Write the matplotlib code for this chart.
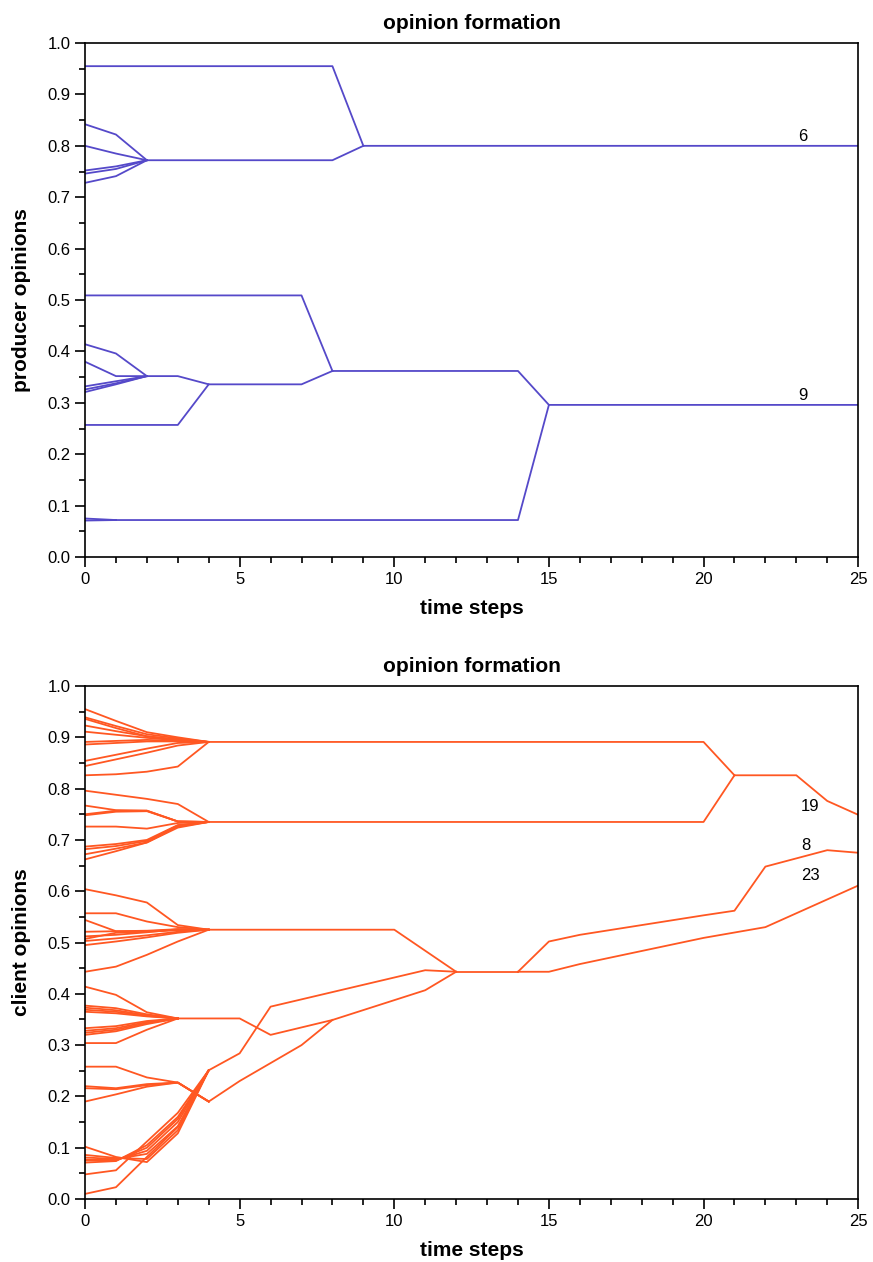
import matplotlib
matplotlib.use("Agg")
import matplotlib.pyplot as plt
from matplotlib.ticker import MultipleLocator

# -----------------------------
# Producer opinions (top panel)
# -----------------------------

# upper group, t = 0, 1, 2
prod_upper_early = [
    [0.842, 0.822, 0.772],
    [0.800, 0.785, 0.772],
    [0.752, 0.760, 0.772],
    [0.746, 0.755, 0.772],
    [0.728, 0.741, 0.772],
]
prod_upper_t = [2, 8, 9, 25]
prod_upper = [0.772, 0.772, 0.800, 0.800]

prod_top_t = [0, 8, 9]
prod_top = [0.955, 0.955, 0.800]

# middle group, t = 0, 1, 2
prod_mid_early = [
    [0.414, 0.396, 0.352],
    [0.380, 0.352, 0.352],
    [0.332, 0.342, 0.352],
    [0.326, 0.338, 0.352],
    [0.321, 0.336, 0.352],
]
prod_mid_t = [2, 3, 4, 7, 8]
prod_mid = [0.352, 0.352, 0.336, 0.336, 0.362]

prod_low_t = [0, 3, 4]
prod_low = [0.257, 0.257, 0.336]

prod_half_t = [0, 7, 8]
prod_half = [0.509, 0.509, 0.362]

prod_joined_t = [8, 14, 15, 25]
prod_joined = [0.362, 0.362, 0.296, 0.296]

# bottom pair, t = 0, 1
prod_bottom_early = [[0.075, 0.072], [0.071, 0.072]]
prod_bottom_t = [1, 14, 15]
prod_bottom = [0.072, 0.072, 0.296]

prod_labels = ["6", "9"]
prod_label_t = [23.2, 23.2]
prod_label_y = [0.819, 0.315]

# -----------------------------
# Client opinions (bottom panel)
# -----------------------------

early_t = [0, 1, 2, 3, 4]

# cluster A, t = 0..4
cl_a_early = [
    [0.955, 0.932, 0.910, 0.900, 0.891],
    [0.939, 0.922, 0.906, 0.898, 0.891],
    [0.936, 0.918, 0.902, 0.896, 0.891],
    [0.923, 0.912, 0.902, 0.895, 0.891],
    [0.911, 0.905, 0.899, 0.894, 0.891],
    [0.891, 0.893, 0.895, 0.893, 0.891],
    [0.886, 0.889, 0.892, 0.892, 0.891],
    [0.854, 0.866, 0.878, 0.889, 0.891],
    [0.844, 0.857, 0.870, 0.884, 0.891],
    [0.826, 0.828, 0.833, 0.843, 0.891],
]
cl_a_t = [4, 20, 21]
cl_a = [0.891, 0.891, 0.826]

# cluster B, t = 0..4
cl_b_early = [
    [0.796, 0.788, 0.780, 0.770, 0.735],
    [0.767, 0.758, 0.757, 0.736, 0.735],
    [0.750, 0.757, 0.757, 0.736, 0.735],
    [0.748, 0.755, 0.756, 0.736, 0.735],
    [0.726, 0.726, 0.722, 0.733, 0.735],
    [0.687, 0.692, 0.700, 0.729, 0.735],
    [0.682, 0.688, 0.698, 0.728, 0.735],
    [0.672, 0.683, 0.695, 0.726, 0.735],
    [0.662, 0.678, 0.695, 0.724, 0.735],
]
cl_b_t = [4, 20, 21]
cl_b = [0.735, 0.735, 0.826]

cl_ab_t = [21, 23, 24, 25]
cl_ab = [0.826, 0.826, 0.776, 0.749]

# cluster C, t = 0..4
cl_c_early = [
    [0.604, 0.592, 0.578, 0.534, 0.525],
    [0.557, 0.557, 0.541, 0.530, 0.525],
    [0.544, 0.522, 0.522, 0.525, 0.525],
    [0.521, 0.522, 0.523, 0.526, 0.525],
    [0.512, 0.515, 0.520, 0.526, 0.525],
    [0.507, 0.519, 0.521, 0.524, 0.525],
    [0.503, 0.508, 0.514, 0.521, 0.525],
    [0.495, 0.502, 0.510, 0.519, 0.525],
    [0.443, 0.453, 0.476, 0.502, 0.525],
]
cl_c_t = [4, 10, 12]
cl_c = [0.525, 0.525, 0.443]

# cluster D, t = 0..3
cl_d_early = [
    [0.414, 0.398, 0.364, 0.352],
    [0.377, 0.372, 0.360, 0.352],
    [0.373, 0.368, 0.358, 0.352],
    [0.369, 0.365, 0.357, 0.352],
    [0.365, 0.362, 0.356, 0.352],
    [0.333, 0.337, 0.347, 0.352],
    [0.328, 0.333, 0.345, 0.352],
    [0.324, 0.330, 0.343, 0.352],
    [0.320, 0.327, 0.341, 0.352],
    [0.304, 0.304, 0.330, 0.352],
]
cl_d_t = [3, 5, 6, 8, 11, 12]
cl_d = [0.352, 0.352, 0.320, 0.349, 0.407, 0.443]

# lower groups, t = 0..4
cl_e1_early = [
    [0.258, 0.258, 0.237, 0.227, 0.190],
    [0.220, 0.216, 0.224, 0.227, 0.190],
    [0.216, 0.214, 0.222, 0.227, 0.190],
    [0.190, 0.204, 0.219, 0.227, 0.190],
]
cl_e1_t = [4, 5, 7, 8]
cl_e1 = [0.190, 0.230, 0.300, 0.349]

cl_e2_early = [
    [0.102, 0.082, 0.072, 0.128, 0.251],
    [0.086, 0.080, 0.078, 0.134, 0.251],
    [0.081, 0.078, 0.088, 0.142, 0.251],
    [0.077, 0.076, 0.094, 0.150, 0.251],
    [0.075, 0.075, 0.100, 0.156, 0.251],
    [0.071, 0.074, 0.105, 0.160, 0.251],
    [0.048, 0.056, 0.112, 0.168, 0.251],
    [0.010, 0.023, 0.082, 0.140, 0.251],
]
cl_e2_t = [4, 5, 6, 11, 12]
cl_e2 = [0.251, 0.284, 0.375, 0.446, 0.443]

cl_mid_t = [12, 14]
cl_mid = [0.443, 0.443]

cl_g8_t = [14, 15, 16, 20, 21, 22, 24, 25]
cl_g8 = [0.443, 0.502, 0.515, 0.553, 0.562, 0.648, 0.680, 0.675]

cl_g23_t = [14, 15, 16, 20, 22, 25]
cl_g23 = [0.443, 0.443, 0.458, 0.509, 0.530, 0.611]

cl_labels = ["19", "8", "23"]
cl_label_t = [23.45, 23.3, 23.45]
cl_label_y = [0.766, 0.690, 0.630]

blue = "#5549c9"
orange = "#ff5722"

plt.rcParams["font.family"] = ["Liberation Sans", "DejaVu Sans"]

fig = plt.figure(figsize=(8.73, 12.62), dpi=100)
ax1 = fig.add_axes([0.0974, 0.5586, 0.8856, 0.4073])
ax2 = fig.add_axes([0.0974, 0.0499, 0.8856, 0.4065])


def style_axes(ax, ylabel):
    ax.set_xlim(0, 25)
    ax.set_ylim(0, 1)
    ax.xaxis.set_major_locator(MultipleLocator(5))
    ax.xaxis.set_minor_locator(MultipleLocator(1))
    ax.yaxis.set_major_locator(MultipleLocator(0.1))
    ax.yaxis.set_minor_locator(MultipleLocator(0.05))
    ax.yaxis.set_major_formatter(plt.FormatStrFormatter("%.1f"))
    ax.tick_params(which="both", direction="out", top=False, right=False,
                   labelsize=12, width=1.2)
    ax.tick_params(which="major", length=7)
    ax.tick_params(which="minor", length=4)
    for s in ax.spines.values():
        s.set_linewidth(1.2)
    ax.set_title("opinion formation", fontsize=15, fontweight="bold", pad=10)
    ax.set_xlabel("time steps", fontsize=15, fontweight="bold", labelpad=9)
    ax.set_ylabel(ylabel, fontsize=15, fontweight="bold", labelpad=12)


# -----------------------------
# Top panel
# -----------------------------

lw = 1.3
for row in prod_upper_early:
    ax1.plot([0, 1, 2], row, color=blue, lw=lw)
ax1.plot(prod_upper_t, prod_upper, color=blue, lw=lw)
ax1.plot(prod_top_t, prod_top, color=blue, lw=lw)
for row in prod_mid_early:
    ax1.plot([0, 1, 2], row, color=blue, lw=lw)
ax1.plot(prod_mid_t, prod_mid, color=blue, lw=lw)
ax1.plot(prod_low_t, prod_low, color=blue, lw=lw)
ax1.plot(prod_half_t, prod_half, color=blue, lw=lw)
ax1.plot(prod_joined_t, prod_joined, color=blue, lw=lw)
for row in prod_bottom_early:
    ax1.plot([0, 1], row, color=blue, lw=lw)
ax1.plot(prod_bottom_t, prod_bottom, color=blue, lw=lw)

for txt, tx, ty in zip(prod_labels, prod_label_t, prod_label_y):
    ax1.text(tx, ty, txt, fontsize=12, ha="center", va="center")

style_axes(ax1, "producer opinions")

# -----------------------------
# Bottom panel
# -----------------------------

for row in cl_a_early:
    ax2.plot(early_t, row, color=orange, lw=lw)
ax2.plot(cl_a_t, cl_a, color=orange, lw=lw)
for row in cl_b_early:
    ax2.plot(early_t, row, color=orange, lw=lw)
ax2.plot(cl_b_t, cl_b, color=orange, lw=lw)
ax2.plot(cl_ab_t, cl_ab, color=orange, lw=lw)

for row in cl_c_early:
    ax2.plot(early_t, row, color=orange, lw=lw)
ax2.plot(cl_c_t, cl_c, color=orange, lw=lw)
for row in cl_d_early:
    ax2.plot(early_t[:4], row, color=orange, lw=lw)
ax2.plot(cl_d_t, cl_d, color=orange, lw=lw)
for row in cl_e1_early:
    ax2.plot(early_t, row, color=orange, lw=lw)
ax2.plot(cl_e1_t, cl_e1, color=orange, lw=lw)
for row in cl_e2_early:
    ax2.plot(early_t, row, color=orange, lw=lw)
ax2.plot(cl_e2_t, cl_e2, color=orange, lw=lw)

ax2.plot(cl_mid_t, cl_mid, color=orange, lw=lw)
ax2.plot(cl_g8_t, cl_g8, color=orange, lw=lw)
ax2.plot(cl_g23_t, cl_g23, color=orange, lw=lw)

for txt, tx, ty in zip(cl_labels, cl_label_t, cl_label_y):
    ax2.text(tx, ty, txt, fontsize=12, ha="center", va="center")

style_axes(ax2, "client opinions")

fig.savefig("out.png", dpi=100)
